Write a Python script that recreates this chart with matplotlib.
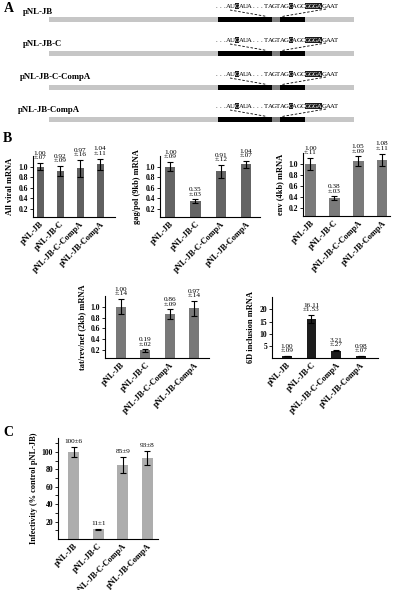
import numpy as np
import matplotlib.pyplot as plt
from matplotlib.patches import Rectangle

plt.rcParams['font.family'] = ['Liberation Serif', 'DejaVu Serif']

W, H = 394, 590

constructs = ['pNL-JB', 'pNL-JB-C', 'pNL-JB-C-CompA', 'pNL-JB-CompA']
sequence = '...AUGAUA...TAGTAGGAGCGGGAGAAT'
boxed = [5, 18, 22, 23, 24, 25]

all_viral = [1.00, 0.92, 0.97, 1.04]
all_viral_err = [0.07, 0.09, 0.16, 0.11]
gag_pol = [1.00, 0.35, 0.91, 1.04]
gag_pol_err = [0.09, 0.03, 0.12, 0.07]
env = [1.00, 0.38, 1.05, 1.08]
env_err = [0.11, 0.03, 0.09, 0.11]
tat_rev_nef = [1.00, 0.19, 0.86, 0.97]
tat_rev_nef_err = [0.14, 0.02, 0.09, 0.14]
incl_6d = [1.00, 16.11, 3.21, 0.98]
incl_6d_err = [0.09, 1.53, 0.27, 0.07]
infectivity = [100, 11, 85, 93]
infectivity_err = [6, 1, 9, 8]

fig = plt.figure(figsize=(W / 100, H / 100), dpi=100)

# ---- panel A: schematic, drawn in pixel units
bg = fig.add_axes([0, 0, 1, 1])
bg.set_xlim(0, W)
bg.set_ylim(H, 0)
bg.axis('off')

row_label_x = [23, 23, 20, 18]
row_label_y = [12, 44, 77, 110]
row_bar_y = [19, 53, 87, 119]
seq_x0, seq_step = 216, 4.15

for name, lx, ly, by in zip(constructs, row_label_x, row_label_y, row_bar_y):
    bg.text(lx, ly, name, fontsize=6.3, fontweight='bold', va='center', ha='left')
    for xa, xb, col in [(49, 354, '#c6c6c6'), (218, 272, 'black'),
                        (272, 280, '#808080'), (280, 305, 'black')]:
        bg.add_patch(Rectangle((xa, by - 2.5), xb - xa, 5, color=col, lw=0))
    sy = by - 13
    for i, ch in enumerate(sequence):
        cx = seq_x0 + i * seq_step
        if i in boxed:
            bg.add_patch(Rectangle((cx - seq_step / 2, sy - 3.2), seq_step, 6.4,
                                   color='#1a1a1a', lw=0))
            bg.text(cx, sy, ch, fontsize=4.9, color='white', ha='center', va='center')
        else:
            bg.text(cx, sy, ch, fontsize=4.9, ha='center', va='center')
    bg.plot([230, 267], [by - 9, by - 2.5], ls=(0, (3, 2)), color='black', lw=0.6)
    bg.plot([326, 282], [by - 10, by - 2.5], ls=(0, (3, 2)), color='black', lw=0.6)

bg.text(4, 9, 'A', fontsize=10, fontweight='bold', va='center')
bg.text(3, 139, 'B', fontsize=10, fontweight='bold', va='center')
bg.text(3, 433, 'C', fontsize=10, fontweight='bold', va='center')


def err_str(e):
    s = f'{e:.2f}'
    return s[1:] if s.startswith('0') else s


def bar_panel(box, vals, errs, color, ylim, yticks, ylabel, xlim, width,
              fmt='{:.1f}', labels=None, minor=None):
    x0, x1, ytop, ybot = box
    ax = fig.add_axes([x0 / W, 1 - ybot / H, (x1 - x0) / W, (ybot - ytop) / H])
    xs = np.arange(len(vals))
    ax.bar(xs, vals, width=width, color=color, zorder=2)
    ax.errorbar(xs, vals, yerr=errs, fmt='none', ecolor='black', elinewidth=0.8,
                capsize=2, capthick=0.8, zorder=3)
    if labels is None:
        labels = [f'{v:.2f}\n±{err_str(e)}' for v, e in zip(vals, errs)]
    for x, v, e, t in zip(xs, vals, errs, labels):
        ax.annotate(t, (x, v + e), xytext=(0, 2), textcoords='offset points',
                    ha='center', va='bottom', fontsize=5.2, linespacing=0.85,
                    annotation_clip=False)
    ax.set_xlim(*xlim)
    ax.set_ylim(*ylim)
    ax.set_yticks(yticks)
    ax.set_yticklabels([fmt.format(t) for t in yticks], fontsize=5.5,
                       fontweight='bold')
    if minor is not None:
        ax.set_yticks(minor, minor=True)
    ax.set_xticks(xs)
    ax.set_xticklabels(constructs, rotation=45, ha='right', rotation_mode='anchor',
                       fontsize=6, fontweight='bold')
    ax.tick_params(axis='x', length=0, pad=2)
    ax.tick_params(axis='y', which='both', length=2, width=0.6, pad=1.5)
    ax.set_ylabel(ylabel, fontsize=6, fontweight='bold', labelpad=3)
    for s in ['top', 'right']:
        ax.spines[s].set_visible(False)
    for s in ['left', 'bottom']:
        ax.spines[s].set_linewidth(0.8)
    ax.patch.set_alpha(0)
    return ax


frac_ticks = [0.2, 0.4, 0.6, 0.8, 1.0]
bar_panel((33, 115, 156, 217), all_viral, all_viral_err, '#606060',
          (0.05, 1.2), frac_ticks, 'All viral mRNA', (-0.35, 3.75), 0.35)
bar_panel((160, 260, 156, 217), gag_pol, gag_pol_err, '#646464',
          (0.05, 1.2), frac_ticks, 'gag/pol (9kb) mRNA', (-0.4, 3.55), 0.4)
bar_panel((303, 390, 153, 216), env, env_err, '#7a7a7a',
          (0.05, 1.2), frac_ticks, 'env (4kb) mRNA', (-0.3, 3.33), 0.45)
bar_panel((105, 209, 296, 358), tat_rev_nef, tat_rev_nef_err, '#787878',
          (0.05, 1.2), frac_ticks, 'tat/rev/nef (2kb) mRNA', (-0.65, 3.6), 0.4)
bar_panel((272, 378, 297, 358), incl_6d, incl_6d_err, '#1c1c1c',
          (0.3, 25), [5, 10, 15, 20], '6D inclusion mRNA', (-0.6, 3.7), 0.4,
          fmt='{:.0f}')
bar_panel((58, 158, 438, 539), infectivity, infectivity_err, '#adadad',
          (0, 116), [20, 40, 60, 80, 100], 'Infectivity (% control pNL-JB)',
          (-0.65, 3.45), 0.45, fmt='{:.0f}',
          labels=[f'{v}±{e}' for v, e in zip(infectivity, infectivity_err)],
          minor=[10, 30, 50, 70, 90, 110])

fig.savefig('out.png', dpi=100)
